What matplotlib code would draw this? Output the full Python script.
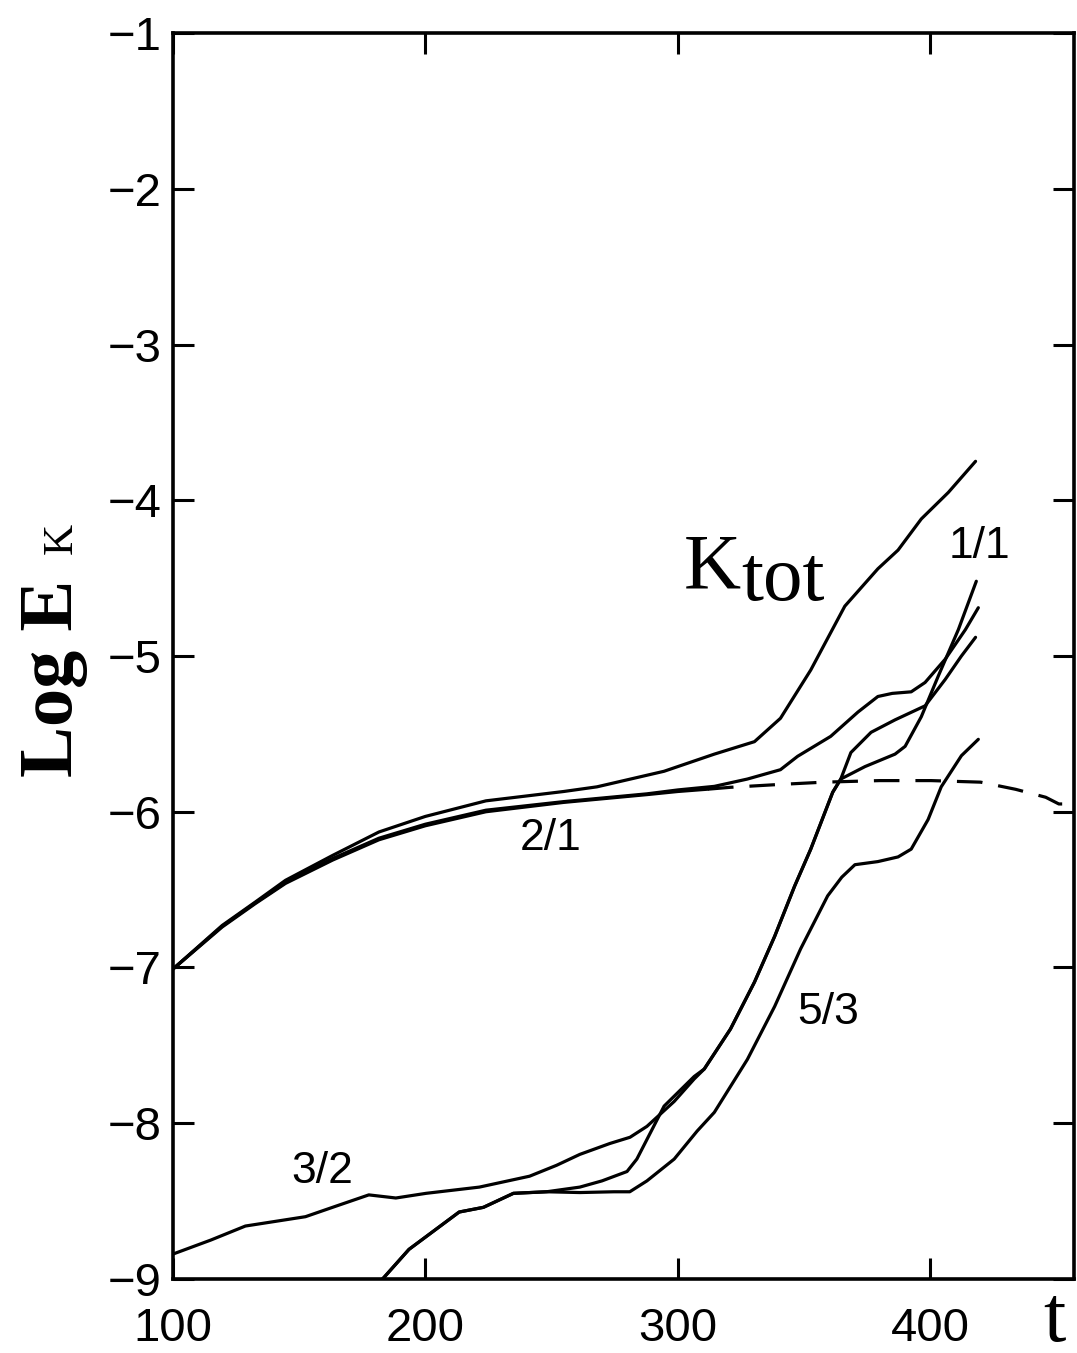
import matplotlib.pyplot as plt

# Log kinetic energy of the total flow and of the individual (m/n) modes vs time
t_ktot = [100, 119.5, 132.6, 144.6, 163.3, 181.6, 200, 224, 254.8, 268, 294.6, 314.5,
          330.4, 340.7, 352.7, 366.2, 379.3, 387.3, 396.5, 407.2, 418]
e_ktot = [-7.01, -6.73, -6.58, -6.44, -6.28, -6.13, -6.03, -5.93, -5.87, -5.84, -5.74, -5.63,
          -5.55, -5.40, -5.09, -4.68, -4.44, -4.32, -4.12, -3.95, -3.75]

# 2/1 mode: solid while growing, dashed once saturated
t_21 = [100, 119.5, 132.6, 144.6, 163.3, 181.6, 200, 224, 254.8, 268, 287.8, 300, 312]
e_21 = [-7.01, -6.74, -6.59, -6.46, -6.31, -6.18, -6.09, -6.00, -5.94, -5.92, -5.89, -5.87, -5.855]
t_21_sat = [312, 320.9, 340, 358, 380, 400.4, 420, 433.9, 445.8, 451, 458]
e_21_sat = [-5.855, -5.843, -5.825, -5.81, -5.80, -5.80, -5.81, -5.856, -5.907, -5.95, -5.95]

# companion mode that follows 2/1 and then grows with a shoulder
t_a = [100, 119.5, 132.6, 144.6, 163.3, 181.6, 200, 224, 254.8, 268, 287.8, 300, 314.5,
       327.6, 340.7, 347.5, 360.6, 371.4, 379.3, 385, 392.5, 398, 406, 414, 419.1]
e_a = [-7.01, -6.735, -6.585, -6.455, -6.30, -6.17, -6.08, -5.99, -5.935, -5.915, -5.885, -5.86,
       -5.837, -5.79, -5.73, -5.644, -5.516, -5.36, -5.26, -5.24, -5.23, -5.17, -5.02, -4.83, -4.69]

t_32 = [100, 115, 128.7, 152.5, 165, 177.6, 188.3, 200.3, 221.4, 241.3, 252, 261.2, 273.1,
        281.1, 287.8, 298.6, 306.5, 310.5, 320.9, 330.4, 338.4, 346.3, 352.7, 361.4, 364.6,
        368.6, 376.6, 386.1, 398, 406, 412.4, 418]
e_32 = [-8.84, -8.75, -8.66, -8.60, -8.53, -8.46, -8.48, -8.45, -8.41, -8.34, -8.27, -8.20, -8.13,
        -8.09, -8.02, -7.86, -7.716, -7.652, -7.395, -7.094, -6.80, -6.478, -6.24, -5.875, -5.79,
        -5.62, -5.49, -5.41, -5.32, -5.15, -5.00, -4.88]

t_11 = [180, 183.6, 193.5, 213.4, 223, 234.9, 248, 261.2, 270, 279.9, 283.8, 294.6, 306.5,
        310.5, 320.9, 330.4, 338.4, 346.3, 352.7, 361.4, 364.6, 374.2, 386.1, 390.1, 396.5,
        403.2, 411.2, 418.3]
e_11 = [-9.05, -8.99, -8.81, -8.57, -8.54, -8.45, -8.44, -8.41, -8.37, -8.31, -8.23, -7.89, -7.70,
        -7.652, -7.395, -7.094, -6.80, -6.478, -6.24, -5.875, -5.79, -5.71, -5.63, -5.58, -5.39,
        -5.13, -4.83, -4.52]

t_53 = [180, 183.6, 193.5, 213.4, 223, 234.9, 248, 261.2, 274.7, 281, 287.8, 298.6, 307.7,
        314.5, 327.6, 338.4, 348.7, 359.4, 365, 370.2, 379.3, 387.3, 392.5, 399.2, 404.4,
        412.4, 419.1]
e_53 = [-9.05, -8.99, -8.81, -8.57, -8.54, -8.45, -8.44, -8.445, -8.44, -8.44, -8.37, -8.23, -8.05,
        -7.93, -7.59, -7.25, -6.88, -6.54, -6.42, -6.34, -6.32, -6.29, -6.24, -6.05, -5.84,
        -5.64, -5.535]

x_ticks = [100, 200, 300, 400]
y_ticks = [-1, -2, -3, -4, -5, -6, -7, -8, -9]

# mode labels: (text, t, log E)
mode_labels = [("2/1", 249.8, -6.17), ("1/1", 419.4, -4.30),
               ("3/2", 159.3, -8.31), ("5/3", 359.7, -7.29)]

LW = 2.3
SANS = "Liberation Sans"
SERIF = "Liberation Serif"

fig = plt.figure(figsize=(10.77, 13.53), dpi=100)
ax = fig.add_axes([0.1606, 0.0547, 0.8366, 0.9209])

for t, e in [(t_ktot, e_ktot), (t_21, e_21), (t_a, e_a), (t_32, e_32), (t_11, e_11), (t_53, e_53)]:
    ax.plot(t, e, color="black", lw=LW, solid_capstyle="round")
ax.plot(t_21_sat, e_21_sat, color="black", lw=LW, linestyle=(0, (8, 5)))

ax.set_xlim(100, 457)
ax.set_ylim(-9, -1)
ax.set_xticks(x_ticks)
ax.set_yticks(y_ticks)
ax.set_xticklabels([str(v) for v in x_ticks], fontfamily=SANS, fontsize=34)
ax.set_yticklabels(["\u2212%d" % abs(v) for v in y_ticks], fontfamily=SANS, fontsize=34)
ax.tick_params(axis="both", direction="in", length=15, width=2.2, top=True, right=True)
ax.tick_params(axis="x", pad=20)
ax.tick_params(axis="y", pad=8)
for sp in ax.spines.values():
    sp.set_linewidth(2.6)

for txt, t, e in mode_labels:
    ax.text(t, e, txt, fontfamily=SANS, fontsize=32, ha="center", va="center")

# K_tot label: "tot" sits slightly below the K baseline
ax.text(302.4, -4.557, "K", fontfamily=SERIF, fontsize=57, ha="left", va="baseline")
ax.text(325.3, -4.64, "tot", fontfamily=SERIF, fontsize=57, ha="left", va="baseline")

# axis titles
fig.text(1066 / 1077, 1 - 1321 / 1353, "t", fontfamily=SERIF, fontsize=58, ha="right", va="center")
fig.text(72 / 1077, 1 - 777 / 1353, "Log E", fontfamily=SERIF, fontweight="bold",
         fontsize=55, rotation=90, rotation_mode="anchor", ha="left", va="baseline")
fig.text(72 / 1077, 1 - 554 / 1353, "K", fontfamily=SERIF, fontsize=31,
         rotation=90, rotation_mode="anchor", ha="left", va="baseline")

fig.savefig("out.png", dpi=100)
